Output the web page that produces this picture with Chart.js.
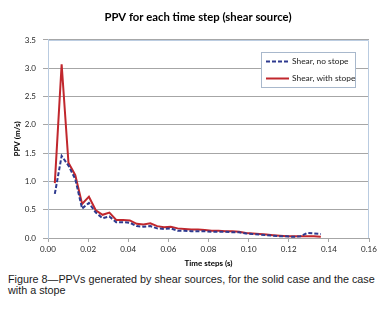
<!DOCTYPE html>
<html>
<head>
<meta charset="utf-8">
<script src="https://cdn.jsdelivr.net/npm/chart.js@4.4.1/dist/chart.umd.min.js"></script>
<style>
	body { margin: 0; background: #fff; width: 388px; height: 312px; overflow: hidden; }
	#wrap { position: relative; width: 388px; height: 272px; }
	canvas { display: block; }
	.caption { font-family: 'Liberation Sans', Arial, sans-serif; font-size: 10.8px; line-height: 11px; color: #1a1a1a; margin: 0; padding: 2px 0 0 8px; white-space: nowrap; }
</style>
</head>
<body>
<div id="wrap"><canvas id="ppv" width="388" height="272"></canvas></div>
<p class="caption">Figure 8—PPVs generated by shear sources, for the solid case and the case<br>with a stope</p>
<script>
// time steps (s) and PPV (m/s)
const timeSteps = [
	0.0034, 0.0068, 0.0102, 0.0136, 0.0170, 0.0204, 0.0238, 0.0272, 0.0306, 0.0340,
	0.0374, 0.0408, 0.0442, 0.0476, 0.0510, 0.0544, 0.0578, 0.0612, 0.0646, 0.0680,
	0.0714, 0.0748, 0.0782, 0.0816, 0.0850, 0.0884, 0.0918, 0.0952, 0.0986, 0.1020,
	0.1054, 0.1088, 0.1122, 0.1156, 0.1190, 0.1224, 0.1258, 0.1292, 0.1326, 0.1360,
];
const shearNoStope = [
	0.78, 1.45, 1.28, 1.04, 0.52, 0.62, 0.45, 0.35, 0.38, 0.28,
	0.28, 0.27, 0.21, 0.20, 0.21, 0.17, 0.16, 0.17, 0.13, 0.13,
	0.12, 0.12, 0.12, 0.11, 0.11, 0.11, 0.10, 0.10, 0.08, 0.07,
	0.06, 0.05, 0.04, 0.03, 0.03, 0.02, 0.03, 0.09, 0.08, 0.07,
];
const shearWithStope = [
	0.97, 3.07, 1.33, 1.11, 0.60, 0.73, 0.49, 0.41, 0.45, 0.32,
	0.32, 0.31, 0.25, 0.24, 0.26, 0.21, 0.19, 0.20, 0.17, 0.16,
	0.15, 0.15, 0.14, 0.13, 0.13, 0.12, 0.12, 0.11, 0.09, 0.08,
	0.07, 0.06, 0.05, 0.04, 0.03, 0.03, 0.03, 0.03, 0.03, 0.02,
];
const xTicks = [0, 0.02, 0.04, 0.06, 0.08, 0.10, 0.12, 0.14, 0.16];
const yTicks = [0, 0.5, 1.0, 1.5, 2.0, 2.5, 3.0, 3.5];

const toPoints = arr => arr.map((v, i) => ({ x: timeSteps[i], y: v }));

Chart.defaults.font.family = 'Lato, "Open Sans", sans-serif';
Chart.defaults.color = '#262626';

// light blue frame round the plot area
const plotFrame = {
	id: 'plotFrame',
	beforeDatasetsDraw(chart) {
		const { ctx, chartArea: a } = chart;
		ctx.save();
		ctx.strokeStyle = '#b9cbe0';
		ctx.lineWidth = 1;
		ctx.beginPath();
		ctx.moveTo(a.left, a.top + 0.5);
		ctx.lineTo(a.right - 0.5, a.top + 0.5);
		ctx.lineTo(a.right - 0.5, a.bottom);
		ctx.stroke();
		ctx.restore();
	},
};

// boxed legend inside the plot area, top right
const legendBox = {
	id: 'legendBox',
	afterDraw(chart) {
		const { ctx, chartArea: a } = chart;
		const w = 94, h = 35;
		const x = Math.round(a.right - 14 - w), y = Math.round(a.top + 12);
		ctx.save();
		ctx.fillStyle = '#fff';
		ctx.fillRect(x, y, w, h);
		ctx.strokeStyle = '#a8b8cc';
		ctx.lineWidth = 1;
		ctx.strokeRect(x + 0.5, y + 0.5, w, h);
		chart.data.datasets.forEach((ds, i) => {
			const ly = y + 9.5 + i * 17;
			ctx.strokeStyle = ds.borderColor;
			ctx.lineWidth = ds.borderWidth;
			ctx.setLineDash(ds.borderDash || []);
			ctx.beginPath();
			ctx.moveTo(x + 5, ly);
			ctx.lineTo(x + 28, ly);
			ctx.stroke();
			ctx.setLineDash([]);
			ctx.fillStyle = '#222';
			ctx.font = '8.4px Lato, "Open Sans", sans-serif';
			ctx.textBaseline = 'middle';
			ctx.fillText(ds.label, x + 31, ly);
		});
		ctx.restore();
	},
};

new Chart(document.getElementById('ppv').getContext('2d'), {
	type: 'line',
	data: {
		datasets: [
			{
				label: 'Shear, no stope',
				data: toPoints(shearNoStope),
				borderColor: '#2e3a8f',
				borderWidth: 2,
				borderDash: [4, 2],
				pointRadius: 0,
				tension: 0,
			},
			{
				label: 'Shear, with stope',
				data: toPoints(shearWithStope),
				borderColor: '#c1272d',
				borderWidth: 2,
				pointRadius: 0,
				tension: 0,
			},
		],
	},
	options: {
		responsive: false,
		animation: false,
		devicePixelRatio: 1,
		layout: { padding: { left: 8, right: 0, top: 0, bottom: 0 } },
		plugins: {
			legend: { display: false },
			tooltip: { enabled: false },
			title: {
				display: true,
				text: 'PPV for each time step (shear source)',
				color: '#000',
				font: { size: 11.3, weight: 'bold' },
				padding: { top: 10.5, bottom: 15.9 },
			},
		},
		scales: {
			x: {
				type: 'linear',
				min: 0,
				max: 0.16,
				afterBuildTicks: s => { s.ticks = xTicks.map(v => ({ value: v })); },
				afterFit: s => { s.height = 34; s.paddingRight = 19; },
				ticks: { font: { size: 8 }, padding: 3, maxRotation: 0, callback: v => v.toFixed(2) },
				grid: { drawOnChartArea: false, drawTicks: true, tickLength: 4, color: '#a6a6a6' },
				border: { color: '#a6a6a6' },
				title: { display: true, text: 'Time steps (s)', font: { size: 8, weight: 'bold' }, color: '#000', padding: { top: 2, bottom: 4 } },
			},
			y: {
				min: 0,
				max: 3.5,
				afterBuildTicks: s => { s.ticks = yTicks.map(v => ({ value: v })); },
				afterFit: s => { s.width = 40; },
				ticks: { font: { size: 8 }, padding: 7, callback: v => v.toFixed(1) },
				grid: { color: '#a6a6a6', tickLength: 5 },
				border: { color: '#b9cbe0' },
				title: { display: true, text: 'PPV (m/s)', font: { size: 8, weight: 'bold' }, color: '#000', padding: { top: 5, bottom: 0 } },
			},
		},
	},
	plugins: [plotFrame, legendBox],
});
</script>
</body>
</html>
